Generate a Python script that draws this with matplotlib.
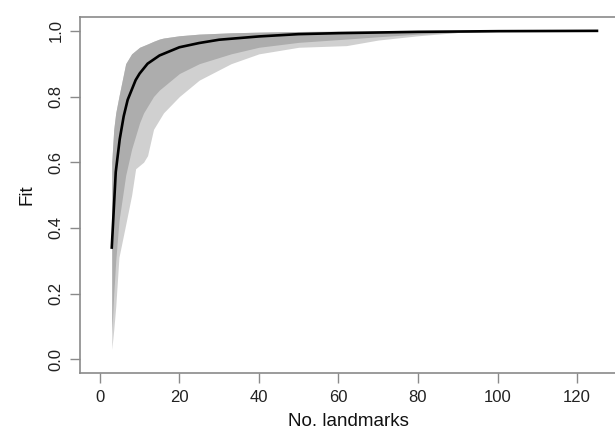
import matplotlib
matplotlib.use("Agg")
import matplotlib.pyplot as plt

plt.rcParams['font.family'] = ['Liberation Sans', 'DejaVu Sans']

# mean fit curve (black)
mean_x = [3, 4, 5, 6, 7, 8, 9, 10, 12, 15, 20, 25, 30, 40, 50, 60, 80, 100, 125]
mean_y = [0.34, 0.57, 0.67, 0.74, 0.79, 0.82, 0.85, 0.87, 0.90, 0.925, 0.95,
          0.963, 0.973, 0.983, 0.990, 0.993, 0.997, 0.999, 1.0]

# envelope of the resampled curves (grey)
env_x = [3, 3.5, 4, 4.8, 6.5, 8, 9, 10, 11, 12, 13.5, 15, 16, 20, 25, 33, 40,
         50, 62, 70, 80, 90, 100, 125]
env_hi = [0.60, 0.70, 0.75, 0.80, 0.90, 0.93, 0.94, 0.95, 0.955, 0.96, 0.968,
          0.975, 0.978, 0.985, 0.99, 0.994, 0.996, 0.998, 0.999, 0.999, 1.0,
          1.0, 1.0, 1.0]
env_lo = [0.03, 0.09, 0.16, 0.31, 0.41, 0.50, 0.58, 0.59, 0.60, 0.62, 0.70,
          0.73, 0.75, 0.80, 0.85, 0.90, 0.93, 0.95, 0.955, 0.972, 0.985,
          0.995, 1.0, 1.0]
# lower edge of the dense core of curves
core_lo = [0.08, 0.20, 0.30, 0.42, 0.56, 0.64, 0.68, 0.72, 0.75, 0.77, 0.80,
           0.82, 0.83, 0.87, 0.90, 0.93, 0.95, 0.965, 0.975, 0.982, 0.99,
           0.995, 0.998, 1.0]

fig = plt.figure(figsize=(6.15, 4.33), dpi=100)
ax = fig.add_axes([0.130, 0.1386, 0.873, 0.822])

ax.fill_between(env_x, env_lo, env_hi, color='#d0d0d0', lw=0)
ax.fill_between(env_x, core_lo, env_hi, color='#adadad', lw=0)
ax.plot(mean_x, mean_y, color='black', lw=1.9)

ax.set_xlim(-5, 130)
ax.set_ylim(-0.042, 1.042)
ax.set_xticks([0, 20, 40, 60, 80, 100, 120])
ax.set_yticks([0.0, 0.2, 0.4, 0.6, 0.8, 1.0])
ax.set_yticklabels(['0.0', '0.2', '0.4', '0.6', '0.8', '1.0'])

for s in ax.spines.values():
    s.set_color('#8a8a8a')
    s.set_linewidth(1.2)

ax.tick_params(length=7, width=1, color='#8a8a8a', labelsize=12,
               labelcolor='#222222', pad=5)
ax.tick_params(axis='y', labelrotation=90)
for lab in ax.get_yticklabels():
    lab.set_va('center')

ax.set_xlabel("No. landmarks", fontsize=13.5, color='#111111', labelpad=6)
ax.set_ylabel("Fit", fontsize=13.5, color='#111111', labelpad=9)

fig.savefig("out.png", dpi=100)
